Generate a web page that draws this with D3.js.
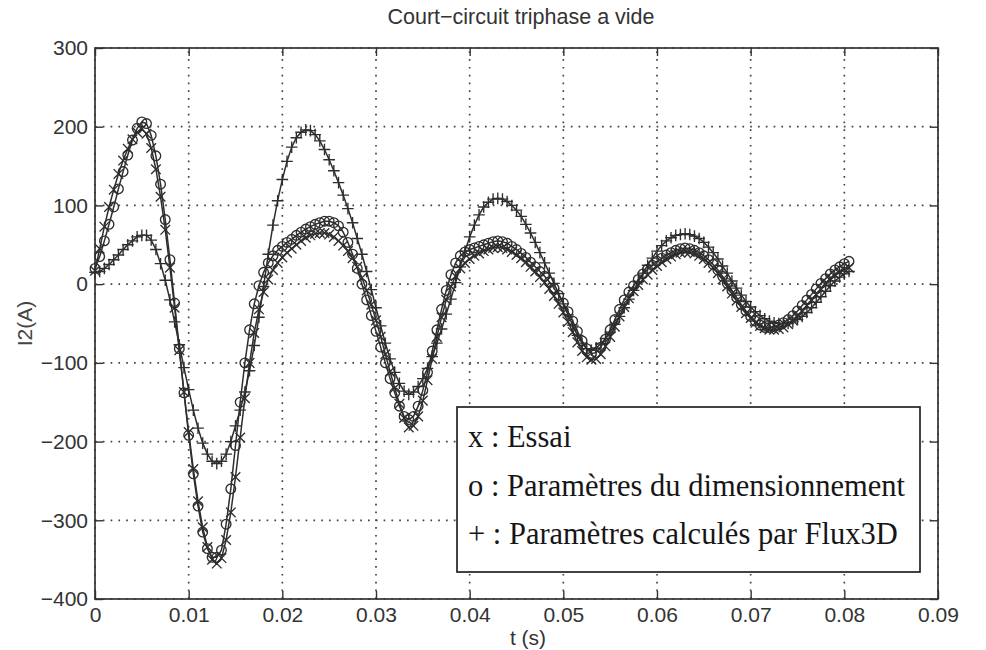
<!DOCTYPE html>
<html><head><meta charset="utf-8">
<script src="https://cdn.jsdelivr.net/npm/d3@7"></script>
<style>
html,body{margin:0;padding:0;background:#fff;}
svg{display:block;}
</style></head><body>
<svg id="chart" width="986" height="650"></svg>
<script>
// ---- data (time in seconds, current I2 in A) ----
const timeS = [
0,0.0005,0.001,0.0015,0.002,0.0025,0.003,0.0035,0.004,0.0045,
0.005,0.0055,0.006,0.0065,0.007,0.0075,0.008,0.0085,0.009,0.0095,
0.01,0.0105,0.011,0.0115,0.012,0.0125,0.013,0.0135,0.014,0.0145,
0.015,0.0155,0.016,0.0165,0.017,0.0175,0.018,0.0185,0.019,0.0195,
0.02,0.0205,0.021,0.0215,0.022,0.0225,0.023,0.0235,0.024,0.0245,
0.025,0.0255,0.026,0.0265,0.027,0.0275,0.028,0.0285,0.029,0.0295,
0.03,0.0305,0.031,0.0315,0.032,0.0325,0.033,0.0335,0.034,0.0345,
0.035,0.0355,0.036,0.0365,0.037,0.0375,0.038,0.0385,0.039,0.0395,
0.04,0.0405,0.041,0.0415,0.042,0.0425,0.043,0.0435,0.044,0.0445,
0.045,0.0455,0.046,0.0465,0.047,0.0475,0.048,0.0485,0.049,0.0495,
0.05,0.0505,0.051,0.0515,0.052,0.0525,0.053,0.0535,0.054,0.0545,
0.055,0.0555,0.056,0.0565,0.057,0.0575,0.058,0.0585,0.059,0.0595,
0.06,0.0605,0.061,0.0615,0.062,0.0625,0.063,0.0635,0.064,0.0645,
0.065,0.0655,0.066,0.0665,0.067,0.0675,0.068,0.0685,0.069,0.0695,
0.07,0.0705,0.071,0.0715,0.072,0.0725,0.073,0.0735,0.074,0.0745,
0.075,0.0755,0.076,0.0765,0.077,0.0775,0.078,0.0785,0.079,0.0795,
0.08,0.0805];

// x : Essai
const essai = [
17,45,73,98,120,140,157,172,184,193,
197,191,173,146,111,69,21,-30,-84,-137,
-188,-235,-276,-309,-334,-350,-355,-348,-325,-290,
-245,-195,-145,-100,-62,-32,-10,6,18,27,
34,40,45,50,55,59,62,64,65,65,
63,60,55,49,42,33,22,8,-8,-26,
-46,-67,-89,-111,-132,-152,-170,-182,-180,-168,
-148,-122,-95,-67,-42,-20,-3,10,20,27,
32,36,39,42,44,46,47,46,44,41,
37,33,28,22,16,9,2,-6,-15,-25,
-36,-48,-61,-74,-85,-93,-96,-95,-89,-79,
-67,-54,-41,-29,-18,-9,-1,6,12,18,
23,28,32,35,38,40,41,41,39,36,
32,27,21,14,6,-3,-12,-21,-29,-37,
-43,-49,-53,-56,-58,-58,-57,-55,-51,-46,
-40,-34,-27,-20,-13,-6,1,7,12,16,
19,21];

// o : Paramètres du dimensionnement
const dimensionnement = [
20,35,55,76,98,121,143,164,183,198,
206,204,189,163,127,82,31,-24,-82,-138,
-192,-241,-282,-315,-336,-347,-347,-338,-305,-260,
-205,-150,-100,-58,-25,-2,15,27,36,43,
48,53,57,62,66,70,73,76,78,80,
80,78,74,66,53,38,20,0,-20,-40,
-60,-80,-100,-120,-138,-155,-168,-172,-168,-155,
-135,-112,-85,-58,-32,-8,12,27,36,41,
44,46,48,50,52,54,55,54,52,48,
44,39,34,28,22,16,10,3,-5,-14,
-24,-35,-47,-60,-72,-82,-88,-87,-80,-70,
-58,-45,-32,-20,-10,-2,6,13,19,24,
29,33,37,40,43,45,46,45,43,40,
36,31,25,18,10,1,-8,-17,-26,-34,
-41,-47,-52,-55,-55,-54,-52,-49,-45,-40,
-34,-27,-20,-13,-6,1,7,13,18,22,
26,29];

// + : Paramètres calculés par Flux3D
const flux3d = [
15,16,20,25,31,37,44,50,55,60,
62,62,56,44,26,5,-20,-48,-77,-106,
-134,-160,-183,-202,-216,-225,-228,-225,-216,-200,
-180,-160,-137,-110,-78,-42,-3,38,75,106,
133,156,174,186,193,196,195,190,182,171,
158,144,129,113,96,78,58,38,16,-7,
-30,-53,-75,-95,-112,-126,-136,-140,-137,-130,
-120,-107,-92,-75,-57,-38,-19,2,22,42,
60,75,88,98,104,108,109,108,105,100,
94,86,76,65,53,40,27,14,1,-12,
-25,-39,-52,-65,-75,-82,-84,-81,-76,-69,
-61,-51,-41,-30,-19,-8,3,14,24,33,
42,49,55,59,62,63,64,63,61,58,
53,47,40,32,23,14,4,-5,-14,-22,
-29,-35,-40,-44,-47,-49,-50,-50,-50,-48,
-45,-41,-36,-30,-23,-16,-9,-2,4,9,
13,16];

const xTicks = [0,0.01,0.02,0.03,0.04,0.05,0.06,0.07,0.08,0.09];
const xTickLabels = ["0","0.01","0.02","0.03","0.04","0.05","0.06","0.07","0.08","0.09"];
const yTicks = [-400,-300,-200,-100,0,100,200,300];
const yTickLabels = ["\u2212400","\u2212300","\u2212200","\u2212100","0","100","200","300"];
const titleText = "Court\u2212circuit triphase a vide";
const xLabelText = "t (s)";
const yLabelText = "I2(A)";
const legendLines = ["x : Essai", "o : Param\u00e8tres du dimensionnement", "+ : Param\u00e8tres calcul\u00e9s par Flux3D"];

// ---- drawing ----
const sans = "'Liberation Sans', Arial, Helvetica, sans-serif";
const serif = "'Liberation Serif', 'Times New Roman', Times, serif";
const ink = "#333";
const curveInk = "#2e2e2e";
const svg = d3.select("#chart");
const x = d3.scaleLinear().domain([0, 0.09]).range([95, 938]);
const y = d3.scaleLinear().domain([-400, 300]).range([599, 48]);
const [x0, x1] = x.range();
const [yb, yt] = y.range();

// grid
const grid = svg.append("g").attr("stroke", "#444").attr("stroke-width", 1.7)
  .attr("stroke-dasharray", "1.7,6.1");
grid.selectAll("line.v").data(xTicks).join("line").attr("class", "v")
  .attr("x1", d => x(d)).attr("x2", d => x(d)).attr("y1", yb).attr("y2", yt);
grid.selectAll("line.h").data(yTicks).join("line").attr("class", "h")
  .attr("y1", d => y(d)).attr("y2", d => y(d)).attr("x1", x0).attr("x2", x1);

// axes
function styleAxis(g) {
  g.select(".domain").remove();
  g.selectAll(".tick line").attr("stroke", ink).attr("stroke-width", 1.4);
  g.selectAll(".tick text").attr("fill", ink).attr("font-family", sans).attr("font-size", 21);
}
svg.append("g").attr("transform", `translate(0,${yb})`)
  .call(d3.axisBottom(x).tickValues(xTicks).tickFormat((d, i) => xTickLabels[i])
    .tickSizeInner(-8).tickSizeOuter(0).tickPadding(8)).call(styleAxis);
svg.append("g").attr("transform", `translate(0,${yt})`)
  .call(d3.axisTop(x).tickValues(xTicks).tickFormat(() => "")
    .tickSizeInner(-8).tickSizeOuter(0)).call(styleAxis);
svg.append("g").attr("transform", `translate(${x0},0)`)
  .call(d3.axisLeft(y).tickValues(yTicks).tickFormat((d, i) => yTickLabels[i])
    .tickSizeInner(-8).tickSizeOuter(0).tickPadding(7)).call(styleAxis);
svg.append("g").attr("transform", `translate(${x1},0)`)
  .call(d3.axisRight(y).tickValues(yTicks).tickFormat(() => "")
    .tickSizeInner(-8).tickSizeOuter(0)).call(styleAxis);

svg.append("rect").attr("x", x0).attr("y", yt).attr("width", x1 - x0).attr("height", yb - yt)
  .attr("fill", "none").attr("stroke", ink).attr("stroke-width", 1.7);

// series
const seriesList = [
  { name: "Essai", values: essai, marker: "x" },
  { name: "Dimensionnement", values: dimensionnement, marker: "o" },
  { name: "Flux3D", values: flux3d, marker: "+" }
];
const line = d3.line().x(d => x(d[0])).y(d => y(d[1]));
const markerPath = {
  "x": "M-4.8,-4.8L4.8,4.8M-4.8,4.8L4.8,-4.8",
  "+": "M-5.8,0L5.8,0M0,-5.8L0,5.8"
};
seriesList.forEach(s => {
  const pts = timeS.map((t, i) => [t, s.values[i]]);
  const g = svg.append("g").attr("class", "series");
  g.append("path").attr("d", line(pts)).attr("fill", "none")
    .attr("stroke", curveInk).attr("stroke-width", 1.5);
  const m = g.selectAll(".m").data(pts).join("g").attr("class", "m")
    .attr("transform", d => `translate(${x(d[0])},${y(d[1])})`);
  if (s.marker === "o") {
    m.append("circle").attr("r", 4.8).attr("fill", "none").attr("stroke", curveInk).attr("stroke-width", 1.35);
  } else {
    m.append("path").attr("d", markerPath[s.marker]).attr("fill", "none").attr("stroke", curveInk).attr("stroke-width", 1.35);
  }
});

// legend (text box)
const lg = svg.append("g");
lg.append("rect").attr("x", 457).attr("y", 407).attr("width", 463).attr("height", 165)
  .attr("fill", "#fff").attr("stroke", "#222").attr("stroke-width", 1.7);
lg.selectAll("text").data(legendLines).join("text")
  .attr("x", 468).attr("y", (d, i) => 447 + i * 48.5)
  .attr("font-family", serif).attr("font-size", 30.5).attr("fill", "#161616")
  .text(d => d);

// labels
svg.append("text").attr("x", 521).attr("y", 24).attr("text-anchor", "middle")
  .attr("font-family", sans).attr("font-size", 21.5).attr("fill", ink).text(titleText);
svg.append("text").attr("x", 528).attr("y", 645).attr("text-anchor", "middle")
  .attr("font-family", sans).attr("font-size", 21).attr("fill", ink).text(xLabelText);
svg.append("text").attr("transform", "translate(25,323.5) rotate(-90)").attr("text-anchor", "middle")
  .attr("dy", "0.35em").attr("font-family", sans).attr("font-size", 21).attr("fill", "#444").text(yLabelText);
</script>
</body></html>
